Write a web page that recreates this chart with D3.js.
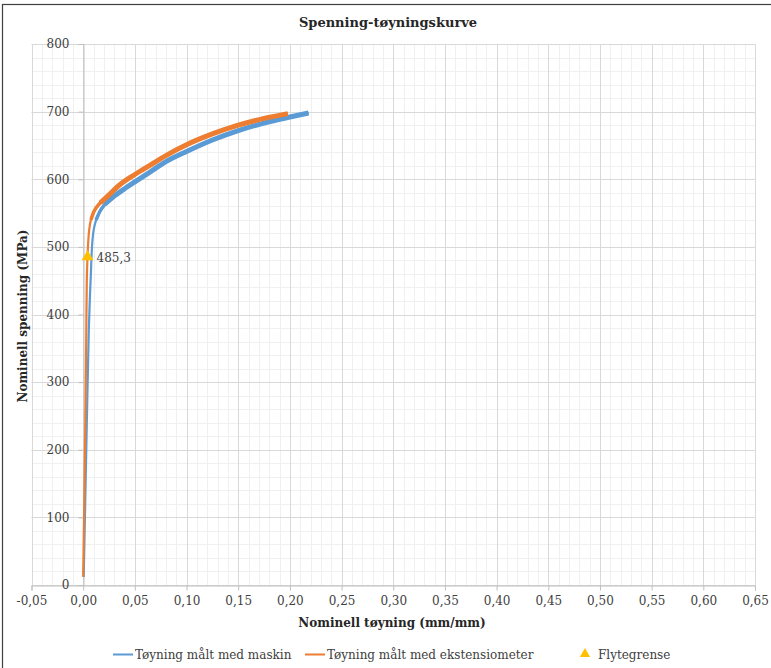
<!DOCTYPE html>
<html><head><meta charset="utf-8">
<script src="https://cdn.jsdelivr.net/npm/d3@7"></script>
<style>body{margin:0;background:#fff}svg{display:block}</style>
</head><body>
<svg id="chart" width="771" height="668"></svg>
<script>
const chartTitle = "Spenning-tøyningskurve";
const xAxisTitle = "Nominell tøyning (mm/mm)";
const yAxisTitle = "Nominell spenning (MPa)";
const seriesNames = ["Tøyning målt med maskin", "Tøyning målt med ekstensiometer", "Flytegrense"];
const seriesColors = ["#5B9BD5", "#ED7D31", "#FFC000"];

const machineStrain = [0.0005, 0.0013, 0.0026, 0.0039, 0.0055, 0.0066, 0.0074, 0.0082, 0.009, 0.0105, 0.0126, 0.016, 0.021, 0.03, 0.041, 0.05, 0.065, 0.08, 0.10, 0.125, 0.15, 0.175, 0.20, 0.218];
const machineStress = [12, 71, 170, 269, 380, 430, 458, 490, 510, 528, 540, 552, 563, 575, 587, 596, 611, 626, 641, 658, 672, 683, 692, 698];

const extStrain = [0.0, 0.0012, 0.0023, 0.0030, 0.0035, 0.0042, 0.005, 0.0058, 0.0075, 0.010, 0.0165, 0.025, 0.034, 0.05, 0.065, 0.08, 0.10, 0.125, 0.15, 0.175, 0.198];
const extStress = [12, 140, 269, 370, 451, 485, 510, 525, 540, 551, 565, 577, 590, 607, 621, 635, 651, 667, 680, 690, 697];

const yieldStrain = [0.0042];
const yieldStress = [485.3];
const yieldLabels = ["485,3"];

const xTicks = [-0.05, 0, 0.05, 0.10, 0.15, 0.20, 0.25, 0.30, 0.35, 0.40, 0.45, 0.50, 0.55, 0.60, 0.65];
const yTicks = [0, 100, 200, 300, 400, 500, 600, 700, 800];

const FONT = "'DejaVu Serif', serif";
const svg = d3.select("#chart");

// outer chart border
svg.append("rect").attr("x", 2.5).attr("y", 4.5).attr("width", 900).attr("height", 900)
  .attr("fill", "none").attr("stroke", "#404040").attr("stroke-width", 1.2);

const x = d3.scaleLinear().domain([-0.05, 0.65]).range([31.5, 755]);
const y = d3.scaleLinear().domain([0, 800]).range([585, 44]);

const g = svg.append("g");

// minor grid
const xMinor = d3.range(-50, 651, 10).map(v => v / 1000);
const yMinor = d3.range(0, 801, 20);
g.selectAll(".xm").data(xMinor).join("line")
  .attr("x1", d => Math.round(x(d)) + 0.5).attr("x2", d => Math.round(x(d)) + 0.5)
  .attr("y1", y(800)).attr("y2", y(0)).attr("stroke", "#f0f0f0").attr("stroke-width", 1);
g.selectAll(".ym").data(yMinor).join("line")
  .attr("y1", d => Math.round(y(d)) + 0.5).attr("y2", d => Math.round(y(d)) + 0.5)
  .attr("x1", x(-0.05)).attr("x2", x(0.65)).attr("stroke", "#f0f0f0").attr("stroke-width", 1);
// major grid
g.selectAll(".xM").data(xTicks).join("line")
  .attr("x1", d => Math.round(x(d)) + 0.5).attr("x2", d => Math.round(x(d)) + 0.5)
  .attr("y1", y(800)).attr("y2", y(0)).attr("stroke", "#d9d9d9").attr("stroke-width", 1);
g.selectAll(".yM").data(yTicks).join("line")
  .attr("y1", d => Math.round(y(d)) + 0.5).attr("y2", d => Math.round(y(d)) + 0.5)
  .attr("x1", x(-0.05)).attr("x2", x(0.65)).attr("stroke", "#d9d9d9").attr("stroke-width", 1);

// axes
const fmt = d => d3.format(".2f")(d).replace(".", ",").replace("−", "-");
const xAxis = d3.axisBottom(x).tickValues(xTicks).tickFormat(fmt).tickSize(5).tickPadding(6);
const xg = svg.append("g").attr("transform", `translate(0,${Math.round(y(0)) + 0.5})`).call(xAxis);
xg.select(".domain").attr("stroke", "#bfbfbf");
xg.selectAll(".tick line").attr("stroke", "#bfbfbf");
xg.selectAll("text").attr("font-family", FONT).attr("font-size", 12).attr("fill", "#404040");

const yAxis = d3.axisLeft(y).tickValues(yTicks).tickFormat(d3.format("d")).tickSize(5).tickPadding(9);
const yg = svg.append("g").attr("transform", `translate(${Math.round(x(0)) + 0.5},0)`).call(yAxis);
yg.select(".domain").attr("stroke", "#bfbfbf");
yg.selectAll(".tick line").attr("stroke", "#bfbfbf");
yg.selectAll("text").attr("font-family", FONT).attr("font-size", 12).attr("fill", "#404040");

// series
const line = d3.line().x(d => x(d[0])).y(d => y(d[1])).curve(d3.curveMonotoneY);
const lineX = d3.line().x(d => x(d[0])).y(d => y(d[1])).curve(d3.curveMonotoneX);
const machine = machineStrain.map((v, i) => [v, machineStress[i]]);
const ext = extStrain.map((v, i) => [v, extStress[i]]);

function drawSeries(data, color) {
  svg.append("path").datum(data).attr("d", line).attr("fill", "none")
    .attr("stroke", color).attr("stroke-width", 2.2).attr("stroke-linejoin", "round");
  const mid = data.filter(d => d[1] >= 540);
  svg.append("path").datum(mid).attr("d", lineX).attr("fill", "none")
    .attr("stroke", color).attr("stroke-width", 3.5).attr("stroke-linejoin", "round");
  const plastic = data.filter(d => d[1] >= 560);
  svg.append("path").datum(plastic).attr("d", lineX).attr("fill", "none")
    .attr("stroke", color).attr("stroke-width", 5).attr("stroke-linejoin", "round");
}
drawSeries(machine, seriesColors[0]);
drawSeries(ext, seriesColors[1]);

// yield point
const tri = d3.symbol().type(d3.symbolTriangle).size(60);
svg.selectAll(".yp").data(yieldStrain).join("path")
  .attr("d", tri).attr("fill", seriesColors[2])
  .attr("transform", (d, i) => `translate(${x(d)},${y(yieldStress[i])})`);
svg.selectAll(".yl").data(yieldStrain).join("text")
  .attr("x", d => x(d) + 9).attr("y", (d, i) => y(yieldStress[i]) + 5)
  .text((d, i) => yieldLabels[i]).attr("font-family", FONT).attr("font-size", 12).attr("fill", "#404040");

// titles
svg.append("text").attr("x", 388).attr("y", 27).attr("text-anchor", "middle")
  .attr("font-family", FONT).attr("font-weight", "bold").attr("font-size", 13).attr("fill", "#262626").text(chartTitle);
svg.append("text").attr("x", 392).attr("y", 627).attr("text-anchor", "middle")
  .attr("font-family", FONT).attr("font-weight", "bold").attr("font-size", 12).attr("fill", "#262626").text(xAxisTitle);
svg.append("text").attr("transform", "translate(27,316) rotate(-90)").attr("text-anchor", "middle")
  .attr("font-family", FONT).attr("font-weight", "bold").attr("font-size", 12).attr("fill", "#262626").text(yAxisTitle);

// legend
const legendX = [113, 305, 579];
const leg = svg.append("g");
seriesNames.forEach((name, i) => {
  const lx = legendX[i];
  if (i < 2) {
    leg.append("line").attr("x1", lx).attr("x2", lx + 20).attr("y1", 654.5).attr("y2", 654.5)
      .attr("stroke", seriesColors[i]).attr("stroke-width", 2);
  } else {
    leg.append("path").attr("d", d3.symbol().type(d3.symbolTriangle).size(45))
      .attr("transform", `translate(${lx + 6},654)`).attr("fill", seriesColors[i]);
  }
  leg.append("text").attr("x", i < 2 ? lx + 22 : lx + 19).attr("y", 658.5)
    .attr("font-family", FONT).attr("font-size", 12).attr("fill", "#404040").text(name);
});
</script>
</body></html>
